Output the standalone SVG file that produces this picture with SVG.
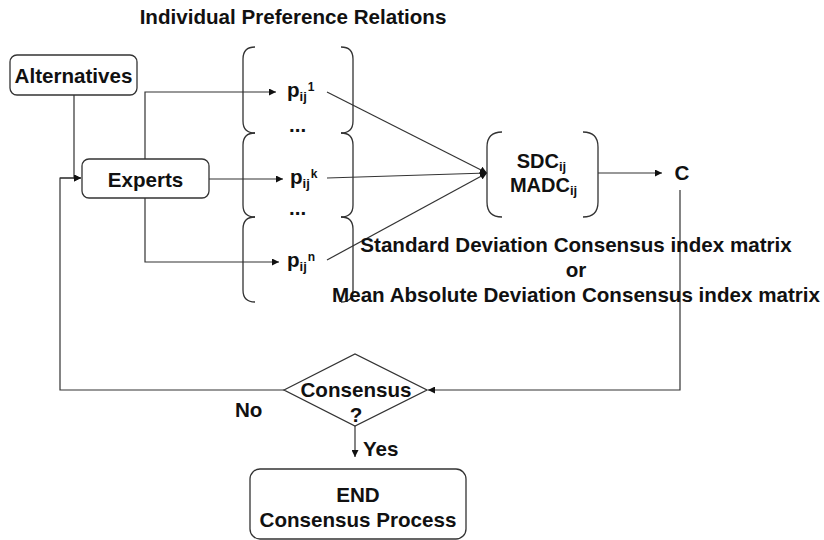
<svg xmlns="http://www.w3.org/2000/svg" width="824" height="540" viewBox="0 0 824 540">
<defs>
<style>
text{font-family:"Liberation Sans",Arial,sans-serif;font-weight:bold;font-size:20.6px;fill:#111}
.c{text-anchor:middle}
.box{fill:#fff;stroke:#333;stroke-width:1.3}
.br{fill:none;stroke:#333;stroke-width:1.3}
.ln{fill:none;stroke:#333;stroke-width:1.2}
.arr{fill:none;stroke:#333;stroke-width:1.2;marker-end:url(#ah)}
.s{font-size:13px}
.sp{font-size:12px}
.m{font-size:20px}
</style>
<marker id="ah" viewBox="0 0 10 10" refX="10" refY="5" markerWidth="7" markerHeight="7" markerUnits="userSpaceOnUse" orient="auto">
<path d="M0,0 L10,5 L0,10 z" fill="#111"/>
</marker>
</defs>
<rect width="824" height="540" fill="#fff"/>
<text class="c" x="293" y="24">Individual Preference Relations</text>

<g id="connectors">
<path class="arr" d="M74,95 L74,178 L81,178"/>
<path class="ln" d="M60,178 L74,178"/>
<path class="arr" d="M145,159 L145,92 L276,92"/>
<path class="arr" d="M209,179 L283,179"/>
<path class="arr" d="M145,198 L145,262 L279,262"/>
<path class="arr" d="M327,92 L487,173"/>
<path class="arr" d="M327,178 L487,173"/>
<path class="arr" d="M327,260 L487,173"/>
<path class="arr" d="M598,173 L662,173"/>
<path class="arr" d="M680,190 L680,390 L428,390"/>
<path class="arr" d="M284,390 L60,390 L60,178 L81,178"/>
<path class="arr" d="M355,426 L355,457"/>
</g>

<g id="alternatives">
<rect class="box" x="10" y="55" width="127" height="40" rx="7"/>
<text class="c" x="73.5" y="82.5">Alternatives</text>
</g>

<g id="experts">
<rect class="box" x="82" y="159" width="127" height="39" rx="7"/>
<text class="c" x="145.5" y="187">Experts</text>
</g>

<g id="brace1">
<path class="br" d="M255,47 Q243,47 243,59 L243,121 Q243,133 255,133"/>
<path class="br" d="M341,47 Q353,47 353,59 L353,121 Q353,133 341,133"/>
<text x="287" y="97">p<tspan class="s" dy="4">ij</tspan><tspan class="sp" dx="1" dy="-10">1</tspan></text>
</g>
<text x="289" y="132">...</text>

<g id="brace2">
<path class="br" d="M255,133 Q243,133 243,145 L243,205 Q243,217 255,217"/>
<path class="br" d="M341,133 Q353,133 353,145 L353,205 Q353,217 341,217"/>
<text x="290" y="184">p<tspan class="s" dy="4">ij</tspan><tspan class="sp" dx="1" dy="-10">k</tspan></text>
</g>
<text x="289" y="215">...</text>

<g id="brace3">
<path class="br" d="M255,217 Q243,217 243,229 L243,290 Q243,302 255,302"/>
<path class="br" d="M341,217 Q353,217 353,229 L353,290 Q353,302 341,302"/>
<text x="287" y="267">p<tspan class="s" dy="4">ij</tspan><tspan class="sp" dx="1" dy="-10">n</tspan></text>
</g>

<g id="sdc">
<path class="br" d="M502,132 Q487,132 487,147 L487,202 Q487,217 502,217"/>
<path class="br" d="M583,132 Q598,132 598,147 L598,202 Q598,217 583,217"/>
<text class="c m" x="541.5" y="168">SDC<tspan class="s" dy="3">ij</tspan></text>
<text class="c m" x="543.5" y="192">MADC<tspan class="s" dy="3">ij</tspan></text>
</g>

<g id="c-node">
<text class="c" x="682" y="180">C</text>
</g>

<g id="index-label">
<text class="c" x="576" y="252">Standard Deviation Consensus index matrix</text>
<text class="c" x="576" y="277">or</text>
<text class="c" x="576" y="302">Mean Absolute Deviation Consensus index matrix</text>
</g>

<g id="decision">
<path class="box" d="M284,390 L355,354 L427,390 L355,426 Z"/>
<text class="c" x="356" y="397">Consensus</text>
<text class="c" x="356" y="422">?</text>
</g>
<text x="235" y="417">No</text>
<text x="363" y="456">Yes</text>

<g id="end">
<rect class="box" x="250" y="469" width="216" height="70" rx="10"/>
<text class="c" x="358" y="502">END</text>
<text class="c" x="358" y="527">Consensus Process</text>
</g>
</svg>
